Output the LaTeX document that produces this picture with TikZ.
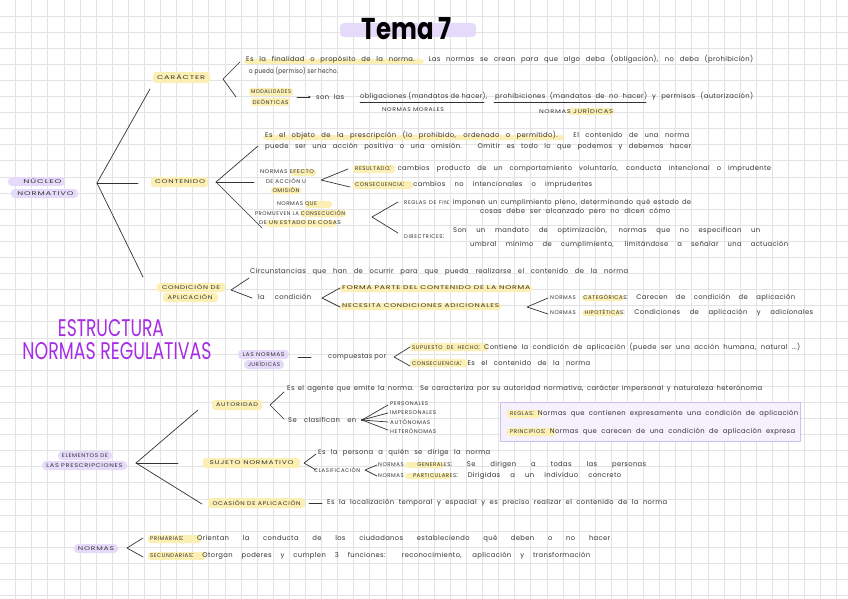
\documentclass[tikz,border=0pt]{standalone}
\usepackage{fontspec}
\usepackage{graphicx}
\setmainfont{Poppins}
\newfontfamily\labfam{Poppins}[LetterSpace=10]
\newfontfamily\txtfam{Poppins}[LetterSpace=5]
\usetikzlibrary{arrows.meta}
\definecolor{gridc}{HTML}{E3E3E3}
\definecolor{ink}{HTML}{333333}
\definecolor{hly}{HTML}{FCEFB4}
\definecolor{hlp}{HTML}{E6DAFB}
\definecolor{purp}{HTML}{A62CE8}
\definecolor{boxfill}{HTML}{F5F1FD}
\definecolor{boxline}{HTML}{CDBDF0}
\newcommand\txtfont{\txtfam\fontsize{6.8}{7}\selectfont}
\newcommand\labfont{\labfam\fontsize{5.4}{6}\selectfont}
\newsavebox\wlbox
\newcommand\wl[2]{\sbox\wlbox{#2}\ifdim\wd\wlbox>#1pt\relax\resizebox{#1pt}{\height}{#2}\else\makebox[#1pt][s]{#2}\fi}
\newcommand\lw[2]{\resizebox{#1pt}{\height}{#2}}
\newcommand\cp[1]{{\labfont #1}}
\newcommand\hlY[4]{\fill[hly, rounded corners=3pt] (#1,#2) rectangle (#3,#4);}
\newcommand\hlP[4]{\fill[hlp, rounded corners=4pt] (#1,#2) rectangle (#3,#4);}
\tikzset{
  tx/.style={anchor=west, inner sep=0pt, text=ink, font=\txtfont},
  lb/.style={anchor=center, inner sep=0pt, text=ink, font=\labfont},
  br/.style={draw=ink, line width=0.7pt, line cap=round, line join=round},
}
\begin{document}
\begin{tikzpicture}[x=1pt,y=-1pt]
\useasboundingbox (0,0) rectangle (848,599);
\fill[white] (0,0) rectangle (848,599);
% grid
\foreach \i in {0,...,51} \draw[gridc, line width=0.9pt] ({15.7+16.1*\i},0) -- ({15.7+16.1*\i},599);
\foreach \j in {0,...,36} \draw[gridc, line width=0.9pt] (0,{16+16.1*\j}) -- (848,{16+16.1*\j});

% ---------- highlights ----------
\hlP{340}{23}{476}{37}
\hlP{8}{177}{65}{186}
\hlP{11}{189}{78}{198}
\hlP{238}{350}{289}{359}
\hlP{244}{360}{284}{369}
\hlP{58}{451}{112}{460}
\hlP{42}{461}{127}{470}
\hlP{74}{544}{118}{553}
\hlY{153}{72}{210}{83}
\hlY{244}{59}{424}{64}
\hlY{249}{88}{293}{96}
\hlY{251}{98}{290}{106}
\hlY{568}{108}{614}{115}
\hlY{151}{177}{208}{187}
\hlY{263}{135}{564}{140}
\hlY{291}{169}{316}{176}
\hlY{271}{187}{301}{194}
\hlY{353}{165}{395}{173}
\hlY{353}{181}{413}{189}
\hlY{305}{201}{332}{208}
\hlY{300}{210}{346}{217}
\hlY{266}{220}{336}{227}
\hlY{157}{283}{225}{292}
\hlY{163}{293}{218}{302}
\hlY{340}{285}{532}{292}
\hlY{340}{303}{501}{310}
\hlY{582}{295}{624}{301}
\hlY{582}{310}{622}{316}
\hlY{410}{343}{488}{351}
\hlY{410}{359}{468}{367}
\hlY{212}{400}{262}{410}
\draw[boxline, fill=boxfill, line width=0.7pt] (500,402) rectangle (800,441);
\hlY{507}{410}{541}{418}
\hlY{507}{428}{556}{436}
\hlY{203}{458}{300}{468}
\hlY{405}{462}{445}{468}
\hlY{405}{473}{452}{479}
\hlY{208}{498}{305}{508}
\hlY{148}{535}{201}{543}
\hlY{148}{552}{206}{560}

% ---------- title ----------
\node[inner sep=0pt, text=black] (title) at (407,29) {\resizebox{90pt}{22pt}{\bfseries Tema 7}};
\node[inner sep=0pt, text=purp] (est1) at (111,328) {\resizebox{106pt}{17pt}{ESTRUCTURA}};
\node[inner sep=0pt, text=purp] (est2) at (117,351.5) {\resizebox{189pt}{17pt}{NORMAS REGULATIVAS}};

% ---------- NUCLEO ----------
\node[lb] (nuc1) at (42.5,181.5) {\lw{38}{NÚCLEO}};
\node[lb] (nuc2) at (45.5,193.5) {\lw{56}{NORMATIVO}};
\coordinate (nuV) at (97,183); \coordinate (nuU) at (150,89);
\coordinate (nuM) at (138,183); \coordinate (nuD) at (143,277);
\draw[br] (nuU) -- (nuV) -- (nuD); \draw[br] (nuV) -- (nuM);

% ---------- CARACTER ----------
\node[lb] (car) at (181,77.5) {\lw{48}{CARÁCTER}};
\coordinate (cV) at (223,79); \coordinate (cU) at (240,62); \coordinate (cD) at (236,97);
\draw[br] (cU) -- (cV) -- (cD);
\node[tx] (car1) at (246,59) {\wl{507}{Es la finalidad o propósito de la norma. Las normas se crean para que algo deba (obligación), no deba (prohibición)}};
\node[tx] (car2) at (249,71) {\wl{89}{o pueda (permiso) ser hecho.}};
\node[lb] (mod1) at (271,92) {\lw{40}{MODALIDADES}};
\node[lb] (mod2) at (270.5,102) {\lw{36}{DEÓNTICAS}};
\coordinate (arA) at (297,97); \coordinate (arB) at (311,97);
\draw[br, -{Stealth[length=3pt,width=2.5pt]}] (arA) -- (arB);
\node[tx] (son) at (316,97) {\wl{28}{son las}};
\node[tx] (obl) at (360,96) {\wl{127}{obligaciones (mandatos de hacer),}};
\node[tx] (pro) at (495,96) {\wl{152}{prohibiciones (mandatos de no hacer)}};
\node[tx] (perm) at (652,96) {\wl{101}{y permisos (autorización)}};
\coordinate (u1a) at (360,102.5); \coordinate (u1b) at (484,102.5);
\coordinate (u2a) at (494,102.5); \coordinate (u2b) at (646,102.5);
\draw[br, line width=0.8pt] (u1a) -- (u1b); \draw[br, line width=0.8pt] (u2a) -- (u2b);
\node[lb] (nmor) at (413,110) {\lw{62}{NORMAS MORALES}};
\node[lb] (njur) at (576,111) {\lw{74}{NORMAS JURÍDICAS}};

% ---------- CONTENIDO ----------
\node[lb] (cont) at (180,182) {\lw{50}{CONTENIDO}};
\coordinate (coV) at (216,182); \coordinate (coU) at (258,146);
\coordinate (coM) at (254,182); \coordinate (coD) at (262,228);
\draw[br] (coU) -- (coV) -- (coD); \draw[br] (coV) -- (coM);
\node[tx] (c1) at (265,135) {\wl{424}{Es el objeto de la prescripción (lo prohibido, ordenado o permitido). El contenido de una norma}};
\node[tx] (c2) at (265,147) {\wl{426}{puede ser una acción positiva o una omisión. Omitir es todo lo que podemos y debemos hacer}};
\node[lb] (ne1) at (287,172) {\lw{54}{NORMAS EFECTO}};
\node[lb] (ne2) at (286,181) {\lw{40}{DE ACCIÓN U}};
\node[lb] (ne3) at (286,190) {\lw{27}{OMISIÓN}};
\coordinate (neV) at (321,180); \coordinate (neU) at (348,169); \coordinate (neD) at (350,187);
\draw[br] (neU) -- (neV) -- (neD);
\node[tx] (r1) at (355,169) {\wl{416}{\cp{RESULTADO}: cambios producto de un comportamiento voluntario, conducta intencional o imprudente}};
\node[tx] (r2) at (355,185) {\wl{237}{\cp{CONSECUENCIA}: cambios no intencionales o imprudentes}};
\node[lb] (np1) at (297,204) {\lw{40}{NORMAS QUE}};
\node[lb] (np2) at (300,213) {\lw{90}{PROMUEVEN LA CONSECUCIÓN}};
\node[lb] (np3) at (300,223) {\lw{82}{DE UN ESTADO DE COSAS}};
\coordinate (npV) at (372,217); \coordinate (npU) at (398,202); \coordinate (npD) at (398,233);
\draw[br] (npU) -- (npV) -- (npD);
\node[tx] (f1) at (404,203) {\wl{287}{\cp{REGLAS DE FIN}: imponen un cumplimiento pleno, determinando qué estado de}};
\node[tx] (f2) at (480,212) {\wl{190}{cosas debe ser alcanzado pero no dicen cómo}};
\node[tx] (d0) at (404,237) {\cp{DIRECTRICES}:};
\node[tx] (d1) at (453,231) {\wl{307}{Son un mandato de optimización, normas que no especifican un}};
\node[tx] (d2) at (470,245) {\wl{318}{umbral mínimo de cumplimiento, limitándose a señalar una actuación}};

% ---------- CONDICION ----------
\node[lb] (cd1) at (191,287.5) {\lw{58}{CONDICIÓN DE}};
\node[lb] (cd2) at (190,297.5) {\lw{45}{APLICACIÓN}};
\coordinate (caV) at (231,290); \coordinate (caU) at (249,278); \coordinate (caD) at (252,298);
\draw[br] (caU) -- (caV) -- (caD);
\node[tx] (circ) at (250,272) {\wl{378}{Circunstancias que han de ocurrir para que pueda realizarse el contenido de la norma}};
\node[tx] (lac) at (258,297) {\wl{53}{la condición}};
\coordinate (lcV) at (322,298); \coordinate (lcU) at (340,288); \coordinate (lcD) at (340,307);
\draw[br] (lcU) -- (lcV) -- (lcD);
\node[tx] (fp) at (342,288) {\lw{188}{\labfont FORMA PARTE DEL CONTENIDO DE LA NORMA}};
\node[tx] (nc) at (342,306) {\lw{157}{\labfont NECESITA CONDICIONES ADICIONALES}};
\coordinate (ncV) at (527,307); \coordinate (ncU) at (548,298); \coordinate (ncD) at (548,314);
\draw[br] (ncU) -- (ncV) -- (ncD);
\node[tx] (ncat) at (550,298) {\wl{245}{\cp{NORMAS CATEGÓRICAS}: Carecen de condición de aplicación}};
\node[tx] (nhip) at (550,313) {\wl{263}{\cp{NORMAS HIPOTÉTICAS}: Condiciones de aplicación y adicionales}};

% ---------- LAS NORMAS JURIDICAS ----------
\node[lb] (lnj1) at (263.5,354.5) {\lw{42}{LAS NORMAS}};
\node[lb] (lnj2) at (264,364.5) {\lw{32}{JURÍDICAS}};
\coordinate (lnA) at (298,357); \coordinate (lnB) at (311,357);
\draw[br] (lnA) -- (lnB);
\node[tx] (comp) at (328,357) {\wl{58}{compuestas por}};
\coordinate (cpV) at (394,357); \coordinate (cpU) at (410,347); \coordinate (cpD) at (410,366);
\draw[br] (cpU) -- (cpV) -- (cpD);
\node[tx] (sh) at (412,347) {\wl{388}{\cp{SUPUESTO DE HECHO}: Contiene la condición de aplicación (puede ser una acción humana, natural ...)}};
\node[tx] (cq) at (412,363) {\wl{178}{\cp{CONSECUENCIA}: Es el contenido de la norma}};

% ---------- ELEMENTOS ----------
\node[lb] (el1) at (85,455.5) {\lw{46}{ELEMENTOS DE}};
\node[lb] (el2) at (84.5,465.5) {\lw{76}{LAS PRESCRIPCIONES}};
\coordinate (elV) at (136,463); \coordinate (elU) at (198,410);
\coordinate (elM) at (178,463); \coordinate (elD) at (202,504);
\draw[br] (elU) -- (elV) -- (elD); \draw[br] (elV) -- (elM);

\node[lb] (aut) at (237,405) {\lw{42}{AUTORIDAD}};
\coordinate (auV) at (270,405); \coordinate (auU) at (284,392); \coordinate (auD) at (284,419);
\draw[br] (auU) -- (auV) -- (auD);
\node[tx] (ae) at (287,389) {\wl{475}{Es el agente que emite la norma. Se caracteriza por su autoridad normativa, carácter impersonal y naturaleza heterónoma}};
\node[tx] (sc) at (288,420) {\wl{68}{Se clasifican en}};
\coordinate (fo) at (362,420);
\coordinate (fa) at (388,405); \coordinate (fb) at (388,413);
\coordinate (fc) at (388,422); \coordinate (fd) at (388,430);
\fill[ink] (fo) circle (1.2pt);
\draw[br] (fo) -- (fa); \draw[br] (fo) -- (fb); \draw[br] (fo) -- (fc); \draw[br] (fo) -- (fd);
\node[tx] (k1) at (390,404) {\lw{38}{\labfont PERSONALES}};
\node[tx] (k2) at (390,413) {\lw{46}{\labfont IMPERSONALES}};
\node[tx] (k3) at (390,422) {\lw{40}{\labfont AUTÓNOMAS}};
\node[tx] (k4) at (390,431) {\lw{46}{\labfont HETERÓNOMAS}};
\node[tx] (rg) at (510,414) {\wl{288}{\cp{REGLAS}: Normas que contienen expresamente una condición de aplicación}};
\node[tx] (pr) at (510,432) {\wl{285}{\cp{PRINCIPIOS}: Normas que carecen de una condición de aplicación expresa}};

\node[lb] (suj) at (251.5,463) {\lw{84}{SUJETO NORMATIVO}};
\coordinate (suV) at (304,463); \coordinate (suU) at (316,454); \coordinate (suD) at (316,470);
\draw[br] (suU) -- (suV) -- (suD);
\node[tx] (esp) at (318,453) {\wl{172}{Es la persona a quién se dirige la norma}};
\node[tx] (clas) at (314,470) {\lw{46}{\labfont CLASIFICACIÓN}};
\coordinate (clV) at (365,470); \coordinate (clU) at (377,465); \coordinate (clD) at (377,476);
\draw[br] (clU) -- (clV) -- (clD);
\node[tx] (ng) at (378,465) {\wl{268}{\cp{NORMAS GENERALES}: Se dirigen a todas las personas}};
\node[tx] (npp) at (378,476) {\wl{243}{\cp{NORMAS PARTICULARES}: Dirigidas a un individuo concreto}};

\node[lb] (oca) at (256.5,503) {\lw{88}{OCASIÓN DE APLICACIÓN}};
\coordinate (ocA) at (309,503); \coordinate (ocB) at (322,503);
\draw[br] (ocA) -- (ocB);
\node[tx] (oc) at (327,503) {\wl{340}{Es la localización temporal y espacial y es preciso realizar el contenido de la norma}};

% ---------- NORMAS ----------
\node[lb] (nor) at (96,548.5) {\lw{36}{NORMAS}};
\coordinate (noV) at (127,548); \coordinate (noU) at (143,538); \coordinate (noD) at (143,557);
\draw[br] (noU) -- (noV) -- (noD);
\node[tx] (pri) at (150,539) {\wl{460}{\cp{PRIMARIAS}: Orientan la conducta de los ciudadanos estableciendo qué deben o no hacer}};
\node[tx] (sec) at (150,556) {\wl{440}{\cp{SECUNDARIAS}: Otorgan poderes y cumplen 3 funciones: reconocimiento, aplicación y transformación}};
\end{tikzpicture}
\end{document}
